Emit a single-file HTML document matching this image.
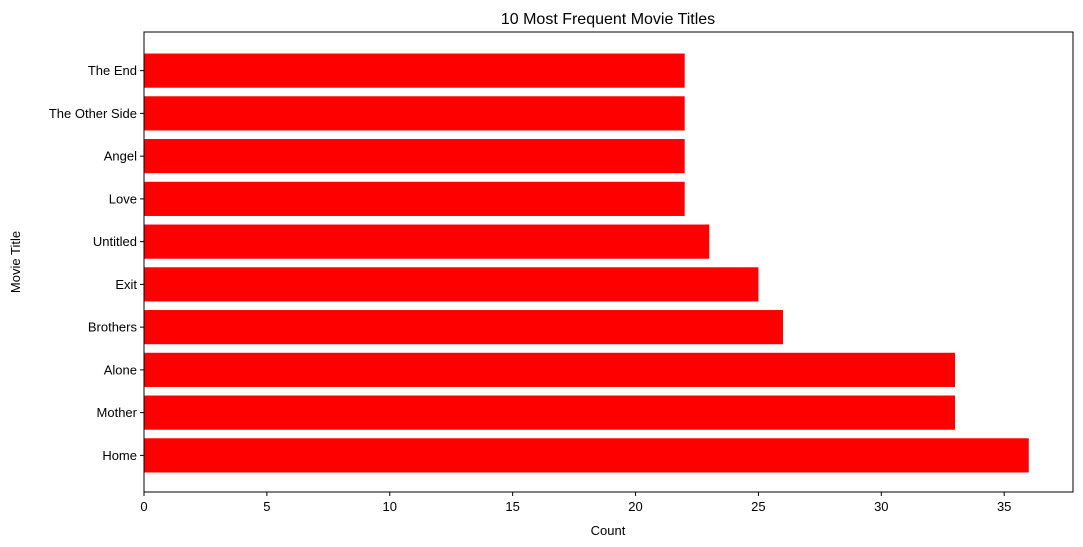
<!DOCTYPE html>
<html><head><meta charset="utf-8"><style>
body{margin:0;background:#fff;}
svg{display:block;font-family:"Liberation Sans","DejaVu Sans",sans-serif;}
</style></head><body>
<svg id="chart" width="1083" height="547">
<rect x="0" y="0" width="1083" height="547" fill="#fff"/>
<text x="608" y="24" font-size="16" text-anchor="middle">10 Most Frequent Movie Titles</text>
<text x="608" y="535" font-size="13" text-anchor="middle">Count</text>
<text x="20" y="262" font-size="13" text-anchor="middle" transform="rotate(-90 20 262)">Movie Title</text>
<g id="bars"></g><g id="xticks"></g><g id="yticks"></g>
<rect x="144" y="32" width="929" height="460" fill="none" stroke="#000" stroke-width="1"/>
</svg>
<script>
const categories=["Home","Mother","Alone","Brothers","Exit","Untitled","Love","Angel","The Other Side","The End"];
const counts=[36,33,33,26,25,23,22,22,22,22];
const xTicks=[0,5,10,15,20,25,30,35];
const L=144,R=1073,T=32,B=492;
const xMax=Math.max(...counts)*1.05;
const x=v=>L+v/xMax*(R-L);
const n=categories.length;
const yMin=-0.4-0.049*(n-1+0.8), yMax=n-1+0.4+0.049*(n-1+0.8);
const y=v=>B-(v-yMin)/(yMax-yMin)*(B-T)+1;
const ns="http://www.w3.org/2000/svg";
const mk=(t,a,p)=>{const e=document.createElementNS(ns,t);for(const k in a)e.setAttribute(k,a[k]);p.appendChild(e);return e;};
const gb=document.getElementById('bars'),gx=document.getElementById('xticks'),gy=document.getElementById('yticks');
const bh=(y(0)-y(0.8));
categories.forEach((c,i)=>{
  const r=mk('rect',{x:x(0),y:y(i)-bh/2,width:x(counts[i])-x(0),height:bh,fill:'#ff0000'},gb);
  
  
  const tk=mk('line',{x1:L-4,x2:L,y1:y(i),y2:y(i),stroke:'#000'},gy);
  
  
  const t=mk('text',{x:L-7,y:y(i)+4.5,'font-size':13,'text-anchor':'end'},gy);
  t.textContent=c;
  
  
});
xTicks.forEach(v=>{
  const tk=mk('line',{x1:x(v),x2:x(v),y1:B,y2:B+4,stroke:'#000'},gx);
  
  
  const t=mk('text',{x:x(v),y:B+19,'font-size':13,'text-anchor':'middle'},gx);
  t.textContent=v;
  
  
});
</script>
</body></html>
